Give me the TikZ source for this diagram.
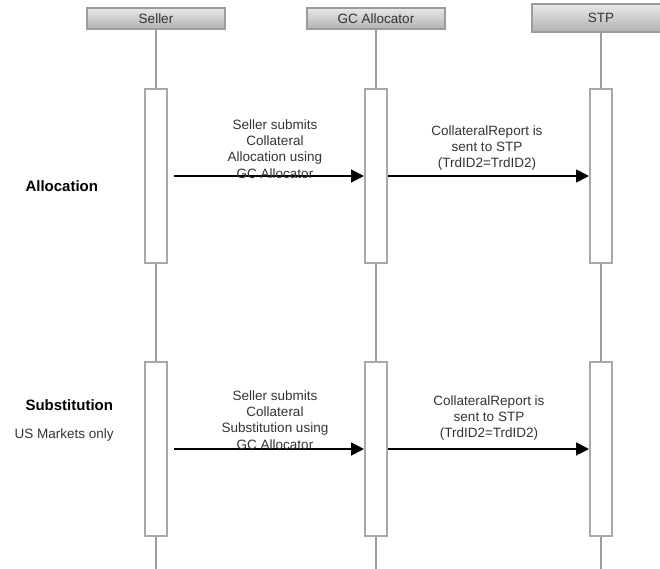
\documentclass[tikz,border=0pt]{standalone}
\usepackage{fontspec}
\setmainfont{Liberation Sans}
\usepackage{tikz}
\usetikzlibrary{arrows.meta,backgrounds}
\usepackage{xcolor}
\definecolor{lifegray}{HTML}{9C9C9C}
\definecolor{actgray}{HTML}{A8A8A8}
\definecolor{headtop}{HTML}{E8E8E8}
\definecolor{headbot}{HTML}{B2B2B2}
\definecolor{textgray}{HTML}{333333}

\begin{document}
\begin{tikzpicture}[
    x=1pt, y=-1pt,
    >={Triangle[length=13pt,width=13pt]},
    headbox/.style={draw=lifegray, line width=1.5pt, top color=headtop, bottom color=headbot,
                    minimum width=138pt, minimum height=21pt, inner sep=0pt,
                    font=\fontsize{13.5}{16}\selectfont, text=textgray},
    actbox/.style={draw=actgray, line width=2pt, fill=white,
                   minimum width=22pt, minimum height=174pt, inner sep=0pt},
    life/.style={draw=lifegray, line width=2pt},
    msg/.style={->, line width=1.8pt, color=black},
    msglabel/.style={align=center, font=\fontsize{13.5}{16.3}\selectfont, text=textgray},
    phase/.style={anchor=west, font=\fontsize{15}{18}\selectfont\bfseries, text=black},
    note/.style={anchor=west, font=\fontsize{13.5}{16}\selectfont, text=textgray},
]
\useasboundingbox (0,0) rectangle (660,569);

% ---- Lifeline heads ----
\node[headbox] (seller) at (156,18.5) {Seller};
\node[headbox] (gc)     at (376,18.5) {GC Allocator};
\node[headbox, minimum height=28pt] (stp) at (601,18) {STP};

% ---- Activation bars ----
\node[actbox] (s_alloc) at (156,176) {};
\node[actbox] (g_alloc) at (376,176) {};
\node[actbox] (t_alloc) at (601,176) {};
\node[actbox] (s_subst) at (156,449) {};
\node[actbox] (g_subst) at (376,449) {};
\node[actbox] (t_subst) at (601,449) {};

% ---- Lifelines ----
\coordinate (seller_end) at (156,569);
\coordinate (gc_end)     at (376,569);
\coordinate (stp_end)    at (601,569);
\begin{pgfonlayer}{background}
\draw[life] (seller.south) -- (seller_end);
\draw[life] (gc.south)     -- (gc_end);
\draw[life] (stp.south)    -- (stp_end);
\end{pgfonlayer}

% ---- Phase labels ----
\node[phase] (p_alloc) at (22,186) {Allocation};
\node[phase] (p_subst) at (22,405) {Substitution};
\node[note]  (p_us)    at (11,435) {US Markets only};

% ---- Messages ----
\draw[msg, shorten <=6pt] (s_alloc.east) -- (g_alloc.west);
\draw[msg] (g_alloc.east) -- (t_alloc.west);
\draw[msg, shorten <=6pt] (s_subst.east) -- (g_subst.west);
\draw[msg] (g_subst.east) -- (t_subst.west);

\node[msglabel] (l_alloc1) at (275,149) {Seller submits\\Collateral\\Allocation using\\GC Allocator};
\node[msglabel] (l_alloc2) at (487,148) {CollateralReport is\\sent to STP\\(TrdID2=TrdID2)};
\node[msglabel] (l_subst1) at (275,420) {Seller submits\\Collateral\\Substitution using\\GC Allocator};
\node[msglabel] (l_subst2) at (489,418) {CollateralReport is\\sent to STP\\(TrdID2=TrdID2)};
\end{tikzpicture}
\end{document}
